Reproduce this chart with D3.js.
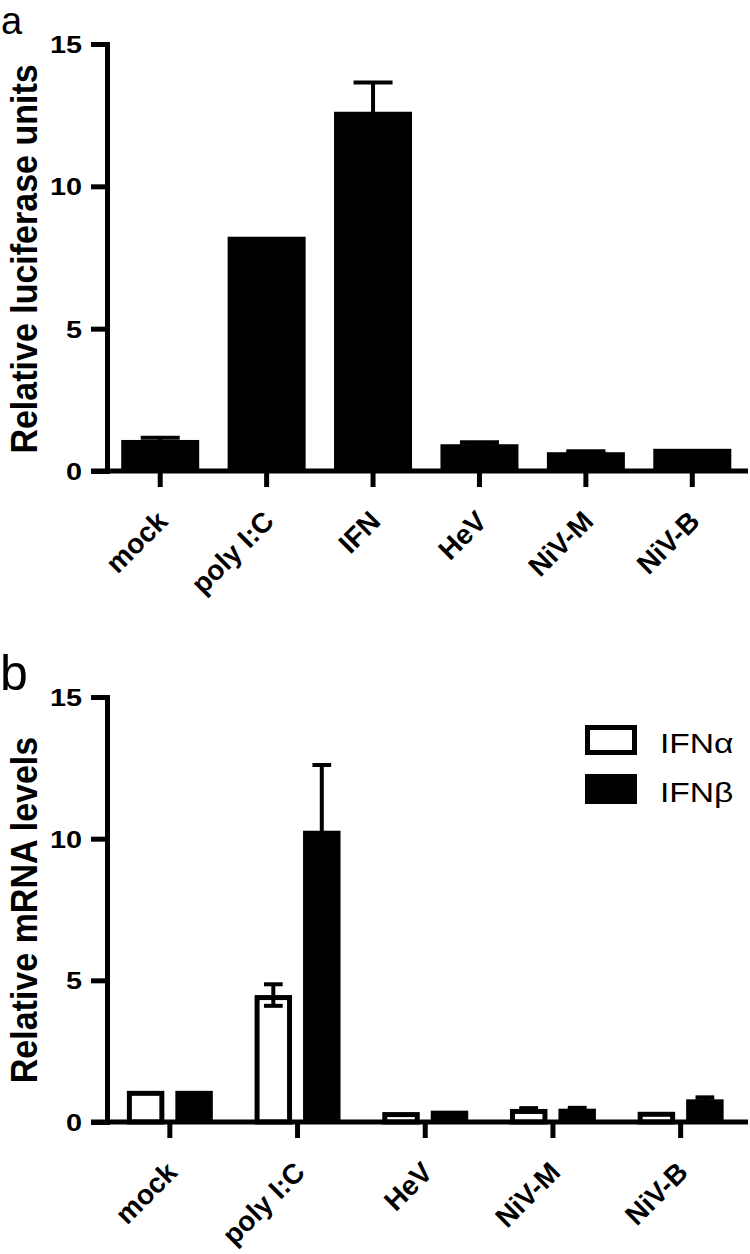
<!DOCTYPE html>
<html lang="en">
<head>
<meta charset="utf-8">
<title>Relative luciferase units and mRNA levels</title>
<script src="https://d3js.org/d3.v7.min.js"></script>
<style>
body { margin: 0; background: #fff; }
text { font-family: "Liberation Sans", Arial, Helvetica, sans-serif; fill: #000; }
.axis text { font-size: 24px; font-weight: bold; }
.xlab text { font-size: 28px; }
</style>
</head>
<body>
<svg id="fig" width="750" height="1254"></svg>
<script>
// panel a: luciferase reporter
var categoriesA = ["mock", "poly I:C", "IFN", "HeV", "NiV-M", "NiV-B"];
var luciferase = [1.09, 8.23, 12.62, 0.94, 0.66, 0.78];
var luciferaseErr = [0.08, 0, 1.03, 0.07, 0.03, 0];

// panel b: qPCR
var categoriesB = ["mock", "poly I:C", "HeV", "NiV-M", "NiV-B"];
var seriesB = ["IFNα", "IFNβ"];
var ifnAlpha = [1.1, 4.48, 0.35, 0.46, 0.36];
var ifnAlphaErr = [0, 0.38, 0, 0.03, 0];
var ifnBeta = [1.1, 10.28, 0.4, 0.47, 0.8];
var ifnBetaErr = [0, 2.32, 0, 0.03, 0.07];

var yTicks = [0, 5, 10, 15];

var svg = d3.select("#fig");
// the source figure is a little stretched sideways, text gets the same stretch
var stretch = " scale(1.2,1)";

function drawAxes(y, x, yTitle, titleY) {
    var g = svg.append("g");

    // y axis
    var ya = g.append("g")
        .attr("class", "axis")
        .attr("transform", "translate(107,0)")
        .call(d3.axisLeft(y).tickValues(yTicks).tickSize(16).tickSizeOuter(0).tickPadding(0));
    ya.select(".domain").attr("stroke-width", 5).attr("stroke-linecap", "square");
    ya.selectAll(".tick line").attr("stroke-width", 5);
    ya.selectAll(".tick text")
        .attr("x", null)
        .attr("dy", "0.36em")
        .attr("transform", "translate(-25,0)" + stretch);

    // x axis, labels at 45 degrees
    var xa = g.append("g")
        .attr("class", "axis xlab")
        .attr("transform", "translate(0," + y(0) + ")")
        .call(d3.axisBottom(x).tickSize(16).tickSizeOuter(0));
    xa.select(".domain").remove();
    xa.selectAll(".tick line").attr("stroke-width", 5);
    xa.selectAll(".tick text")
        .attr("y", null)
        .attr("dy", null)
        .attr("text-anchor", "end")
        .attr("transform", "translate(9,52) rotate(-45)");

    g.append("line")
        .attr("x1", 91)
        .attr("x2", 748)
        .attr("y1", y(0))
        .attr("y2", y(0))
        .attr("stroke", "#000")
        .attr("stroke-width", 5);

    g.append("text")
        .attr("text-anchor", "middle")
        .attr("transform", "translate(37," + titleY + ") scale(1.1,1) rotate(-90)")
        .style("font-size", "34px")
        .style("font-weight", "bold")
        .text(yTitle);
    return g;
}

function errorBar(g, cx, capW, y, v, e) {
    if (!e) return;
    g.append("line")
        .attr("x1", cx).attr("x2", cx)
        .attr("y1", y(v - e)).attr("y2", y(v + e))
        .attr("stroke", "#000").attr("stroke-width", 4);
    [v + e, v - e].forEach(function(t) {
        g.append("line")
            .attr("x1", cx - capW / 2).attr("x2", cx + capW / 2)
            .attr("y1", y(t)).attr("y2", y(t))
            .attr("stroke", "#000").attr("stroke-width", 4);
    });
}

// ---- panel a ----
var yA = d3.scaleLinear().domain([0, 15]).range([471, 44]);
var xA = d3.scaleBand()
    .domain(categoriesA)
    .range([107, 745.5])
    .paddingInner(0.267)
    .paddingOuter(0.1335);

var barsA = svg.append("g");
barsA.selectAll("rect")
    .data(categoriesA)
    .enter().append("rect")
    .attr("x", function(d) { return xA(d); })
    .attr("width", xA.bandwidth())
    .attr("y", function(d, i) { return yA(luciferase[i]); })
    .attr("height", function(d, i) { return yA(0) - yA(luciferase[i]); })
    .attr("fill", "#000");
categoriesA.forEach(function(c, i) {
    errorBar(barsA, xA(c) + xA.bandwidth() / 2, xA.bandwidth() / 2, yA, luciferase[i], luciferaseErr[i]);
});

drawAxes(yA, xA, "Relative luciferase units", 259);

svg.append("text")
    .attr("x", 1)
    .attr("y", 34)
    .style("font-size", "38px")
    .text("a");

// ---- panel b ----
var yB = d3.scaleLinear().domain([0, 15]).range([1122, 697]);
var xB = d3.scaleBand()
    .domain(categoriesB)
    .range([106, 744.5])
    .paddingInner(0.327)
    .paddingOuter(0.1635);
var xSub = d3.scaleBand()
    .domain(seriesB)
    .range([0, xB.bandwidth()])
    .paddingInner(0.227);

var valuesB = [ifnAlpha, ifnBeta];
var errsB = [ifnAlphaErr, ifnBetaErr];

var barsB = svg.append("g");
seriesB.forEach(function(s, k) {
    var open = (k === 0);
    barsB.selectAll("rect.s" + k)
        .data(categoriesB)
        .enter().append("rect")
        .attr("class", "s" + k)
        .attr("x", function(d) { return xB(d) + xSub(s) + (open ? 2.5 : 0); })
        .attr("width", xSub.bandwidth() - (open ? 5 : 0))
        .attr("y", function(d, i) { return yB(valuesB[k][i]) + (open ? 2.5 : 0); })
        .attr("height", function(d, i) { return yB(0) - yB(valuesB[k][i]) - (open ? 2.5 : 0); })
        .attr("fill", open ? "#fff" : "#000")
        .attr("stroke", open ? "#000" : "none")
        .attr("stroke-width", 5);
    categoriesB.forEach(function(c, i) {
        errorBar(barsB, xB(c) + xSub(s) + xSub.bandwidth() / 2, xSub.bandwidth() / 2, yB, valuesB[k][i], errsB[k][i]);
    });
});

drawAxes(yB, xB, "Relative mRNA levels", 910);

svg.append("text")
    .attr("x", 0)
    .attr("y", 690)
    .style("font-size", "50px")
    .text("b");

// legend
var legend = svg.append("g").attr("transform", "translate(585,725)");
seriesB.forEach(function(s, k) {
    var row = legend.append("g").attr("transform", "translate(0," + (k * 49) + ")");
    row.append("rect")
        .attr("x", k === 0 ? 2.5 : 0)
        .attr("y", k === 0 ? 2.5 : 0)
        .attr("width", k === 0 ? 47 : 52)
        .attr("height", k === 0 ? 25 : 30)
        .attr("fill", k === 0 ? "#fff" : "#000")
        .attr("stroke", k === 0 ? "#000" : "none")
        .attr("stroke-width", 5);
    row.append("text")
        .attr("transform", "translate(75,28)" + stretch)
        .style("font-size", "28px")
        .text(s);
});
</script>
</body>
</html>
